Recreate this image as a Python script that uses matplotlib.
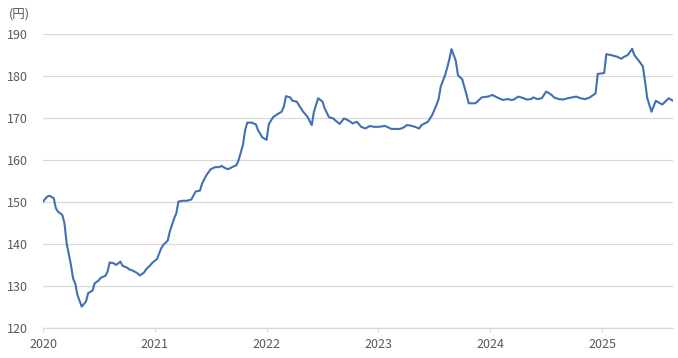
import matplotlib
matplotlib.use('Agg')
import matplotlib.pyplot as plt

plt.rcParams['font.family'] = ['Noto Sans CJK JP', 'DejaVu Sans']

# weekly series, week 0 = first week of 2020
week = [0, 2, 3, 5, 6, 7, 9, 10, 11, 13, 14, 15, 16, 18, 20, 21, 23, 24, 26, 27,
        29, 30, 31, 33, 34, 36, 37, 39, 40, 42, 44, 45, 47, 48, 50, 51, 53, 55, 56, 58,
        59, 61, 62, 63, 65, 67, 69, 71, 73, 74, 76, 78, 80, 82, 83, 85, 86, 88, 90, 91,
        93, 94, 95, 97, 99, 100, 102, 104, 105, 107, 109, 111, 112, 113, 115, 116, 118, 119, 121, 123,
        125, 126, 128, 130, 131, 133, 135, 136, 138, 140, 141, 143, 144, 146, 148, 150, 152, 154, 156, 159,
        160, 162, 164, 166, 168, 169, 171, 173, 175, 176, 179, 181, 183, 184, 185, 187, 188, 189, 190, 192,
        193, 195, 197, 198, 201, 202, 204, 207, 209, 210, 212, 214, 216, 218, 219, 221, 223, 225, 227, 228,
        230, 232, 234, 236, 238, 240, 242, 244, 246, 248, 250, 252, 254, 256, 257, 258, 261, 262, 264, 267,
        269, 270, 272, 274, 275, 277, 279, 280, 281, 283, 285, 288, 289, 291, 293]
price = [150.1, 151.3, 151.5, 150.9, 148.5, 147.7, 146.9, 144.9, 140.2, 135.0, 131.8, 130.6, 127.9, 125.1, 126.3, 128.3, 128.9, 130.6, 131.4, 132.0,
         132.4, 133.4, 135.6, 135.4, 135.0, 135.8, 134.8, 134.4, 134.0, 133.6, 133.0, 132.5, 133.2, 134.0, 135.0, 135.6, 136.4, 139.0, 139.8, 140.8,
         143.0, 146.1, 147.3, 150.1, 150.3, 150.3, 150.6, 152.5, 152.7, 154.4, 156.4, 157.8, 158.3, 158.3, 158.6, 158.0, 157.8, 158.3, 158.8, 160.0,
         163.6, 167.1, 168.9, 168.9, 168.5, 167.1, 165.4, 164.8, 168.5, 170.2, 170.9, 171.5, 172.7, 175.2, 174.9, 174.1, 173.9, 173.1, 171.5, 170.3,
         168.3, 171.5, 174.7, 173.9, 172.3, 170.2, 169.9, 169.4, 168.6, 169.9, 169.7, 169.1, 168.7, 169.1, 167.9, 167.5, 168.1, 167.9, 167.9, 168.1,
         167.9, 167.4, 167.4, 167.4, 167.8, 168.3, 168.2, 167.9, 167.5, 168.3, 169.1, 170.7, 173.1, 174.5, 177.5, 180.2, 182.0, 184.0, 186.4, 183.6,
         180.2, 179.2, 175.5, 173.5, 173.5, 173.9, 174.9, 175.1, 175.5, 175.2, 174.7, 174.3, 174.5, 174.3, 174.4, 175.1, 174.8, 174.4, 174.5, 174.9,
         174.5, 174.7, 176.3, 175.7, 174.8, 174.5, 174.4, 174.7, 174.9, 175.1, 174.7, 174.5, 174.8, 175.5, 175.9, 180.5, 180.7, 185.2, 185.0, 184.6,
         184.1, 184.5, 185.0, 186.5, 185.0, 183.7, 182.3, 178.7, 174.8, 171.5, 174.1, 173.2, 173.7, 174.7, 174.1]

year_weeks = [0, 52, 104, 156, 208, 260]
year_labels = ['2020', '2021', '2022', '2023', '2024', '2025']
y_ticks = [120, 130, 140, 150, 160, 170, 180, 190]

fig = plt.figure(figsize=(6.78, 3.58), dpi=100)
ax = fig.add_axes([0.0634, 0.0838, 0.9292, 0.8212])

ax.plot(week, price, color='#4170b4', linewidth=1.5, solid_joinstyle='round')

ax.set_xlim(0, 293)
ax.set_ylim(120, 190)
ax.set_yticks(y_ticks)
ax.set_xticks(year_weeks)
ax.set_xticklabels(year_labels)

ax.grid(axis='y', color='#d9d9d9', linewidth=0.9)
ax.set_axisbelow(True)
for s in ['top', 'right', 'left']:
    ax.spines[s].set_visible(False)
ax.spines['bottom'].set_color('#d9d9d9')
ax.spines['bottom'].set_linewidth(0.9)

ax.tick_params(axis='y', length=0, pad=11, labelsize=9, labelcolor='#595959')
ax.tick_params(axis='x', length=3, width=0.8, color='#d9d9d9', pad=4,
               labelsize=9, labelcolor='#595959')

fig.text(0.029, 0.961, '(円)', fontsize=9, color='#595959', ha='center', va='center')

fig.savefig('out.png', dpi=100)
